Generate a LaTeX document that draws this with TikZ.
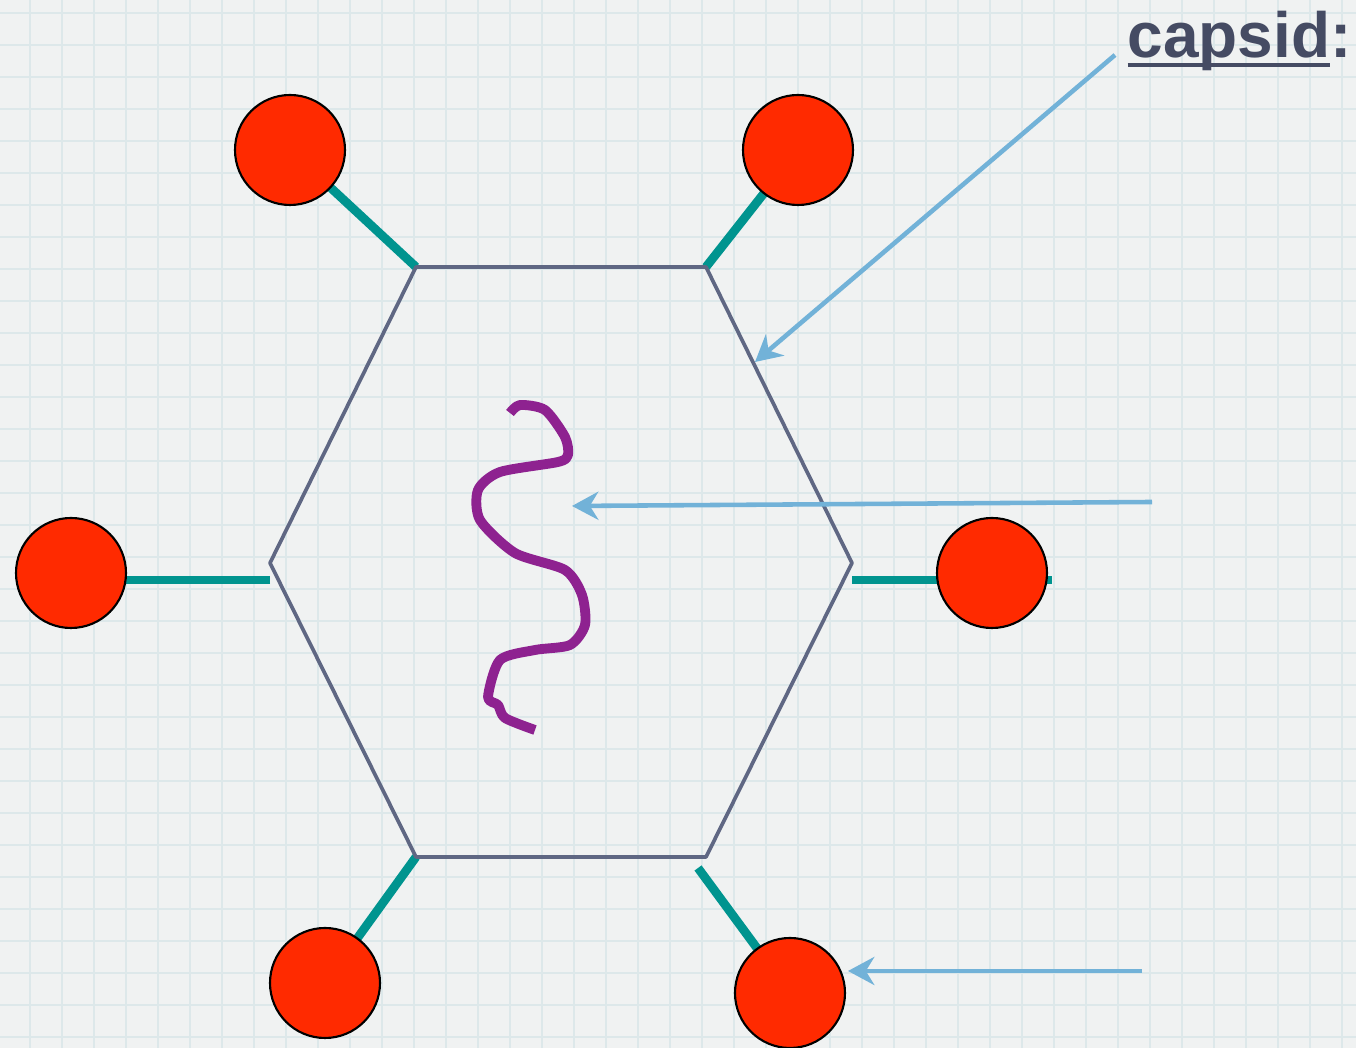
\documentclass[tikz,border=0pt]{standalone}
\usepackage{xcolor}
\usepackage{fontspec}
\setmainfont{Liberation Sans}
\usepackage{tikz}
\usetikzlibrary{arrows.meta}
\definecolor{paper}{HTML}{F0F2F2}
\definecolor{gridblue}{HTML}{DDE8EA}
\definecolor{slate}{HTML}{5F6783}
\definecolor{spike}{HTML}{00948F}
\definecolor{knob}{HTML}{FF2A00}
\definecolor{dna}{HTML}{8E2290}
\definecolor{pointer}{HTML}{72B2D8}
\definecolor{ink}{HTML}{454B63}
\newcommand{\thickuline}[1]{\setbox0\hbox{#1}\rlap{\rule[-2.5pt]{\wd0}{1.1pt}}\box0}

\begin{document}
\begin{tikzpicture}[x=1cm,y=1cm,
  ball/.style={circle,draw=black,line width=0.6pt,fill=knob,minimum size=1.1cm,inner sep=0pt},
  stub/.style={spike,line width=2.5pt},
  shell/.style={slate,line width=1.05pt,line join=round},
  pointer arrow/.style={-{Stealth[length=7.5pt,width=8pt]},pointer,line width=1.3pt}]
\useasboundingbox (0,0) rectangle (13.56,10.48);
\fill[paper] (0,0) rectangle (13.56,10.48);
\begin{scope}
\clip (0,0) rectangle (13.56,10.48);
\draw[gridblue,line width=0.45pt,xshift=-0.02cm,yshift=0.11cm] (-0.32,-0.32) grid[step=0.32] (13.9,10.9);
\end{scope}
% capsid corners
\coordinate (h1) at (4.16,7.81);
\coordinate (h2) at (7.06,7.81);
\coordinate (h3) at (8.52,4.85);
\coordinate (h4) at (7.06,1.91);
\coordinate (h5) at (4.16,1.91);
\coordinate (h6) at (2.70,4.85);
% knob centres
\coordinate (c1) at (2.90,8.98);
\coordinate (c2) at (7.98,8.98);
\coordinate (c3) at (9.92,4.75);
\coordinate (c4) at (7.90,0.55);
\coordinate (c5) at (3.25,0.65);
\coordinate (c6) at (0.71,4.75);
\coordinate (s3) at (8.52,4.68);
\coordinate (e3) at (10.52,4.68);
\coordinate (s4) at (6.98,1.80);
\coordinate (s6) at (2.70,4.68);
\draw[stub] (h1) -- (c1);
\draw[stub] (h2) -- (c2);
\draw[stub] (s3) -- (e3);
\draw[stub] (s4) -- (c4);
\draw[stub] (h5) -- (c5);
\draw[stub] (s6) -- (c6 |- s6);
\draw[shell] (h1) -- (h2) -- (h3) -- (h4) -- (h5) -- (h6) -- cycle;
\node[ball] (b1) at (c1) {};
\node[ball] (b2) at (c2) {};
\node[ball] (b3) at (c3) {};
\node[ball] (b4) at (c4) {};
\node[ball] (b5) at (c5) {};
\node[ball] (b6) at (c6) {};
% genome
\draw[dna,line width=2.8pt,line cap=butt,line join=round] plot[smooth,tension=0.45] coordinates {
  (5.10,6.35) (5.20,6.43) (5.45,6.38) (5.65,6.11) (5.68,5.93) (5.58,5.86)
  (5.00,5.76) (4.78,5.58) (4.80,5.28) (5.15,4.95) (5.65,4.78) (5.82,4.53)
  (5.85,4.23) (5.70,4.03) (5.35,3.98) (5.00,3.88) (4.88,3.51) (4.98,3.43)
  (5.05,3.30) (5.35,3.18)};
% labels and pointers
\node[anchor=base west,font=\bfseries\fontsize{18.2}{20}\selectfont,text=ink,inner sep=0pt] (lbl) at (11.27,9.90) {\thickuline{capsid}:};
\coordinate (t1) at (11.15,9.93);
\coordinate (p1) at (7.55,6.86);
\coordinate (t2) at (11.52,5.46);
\coordinate (p2) at (5.72,5.42);
\coordinate (t3) at (11.42,0.77);
\coordinate (p3) at (8.48,0.77);
\draw[pointer arrow] (t1) -- (p1);
\draw[pointer arrow] (t2) -- (p2);
\draw[pointer arrow] (t3) -- (p3);
\end{tikzpicture}
\end{document}
